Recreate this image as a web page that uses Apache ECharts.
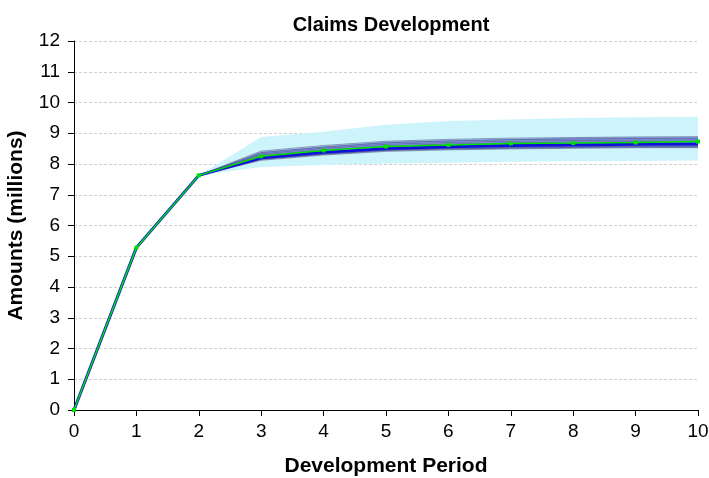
<!DOCTYPE html>
<html><head><meta charset="utf-8">
<script src="https://cdn.jsdelivr.net/npm/echarts@6/dist/echarts.min.js"></script>
<style>html,body{margin:0;padding:0;background:#fff}#c{width:709px;height:478px}</style>
</head><body><div id="c"></div>
<script>
const periods = ['0','1','2','3','4','5','6','7','8','9','10'];
const yTicks = [0,1,2,3,4,5,6,7,8,9,10,11,12];
const outerLow  = [0,5.28,7.63,7.90,7.97,8.02,8.04,8.07,8.09,8.10,8.11];
const outerHigh = [0,5.28,7.63,8.88,9.05,9.28,9.40,9.45,9.50,9.52,9.54];
const innerLow  = [0,5.28,7.63,8.13,8.30,8.42,8.47,8.50,8.52,8.53,8.53];
const innerHigh = [0,5.28,7.63,8.40,8.58,8.72,8.78,8.82,8.85,8.87,8.88];
const path1 = [0,5.28,7.63,8.42,8.60,8.74,8.80,8.84,8.86,8.88,8.89];
const path2 = [0,5.28,7.63,8.37,8.55,8.69,8.75,8.79,8.81,8.83,8.84];
const path3 = [0,5.28,7.63,8.33,8.51,8.64,8.70,8.74,8.76,8.78,8.79];
const path4 = [0,5.28,7.63,8.29,8.46,8.59,8.65,8.69,8.71,8.73,8.74];
const path5 = [0,5.28,7.63,8.17,8.34,8.46,8.51,8.54,8.56,8.58,8.59];
const path6 = [0,5.28,7.63,8.12,8.29,8.41,8.46,8.49,8.51,8.53,8.53];
const path7 = [0,5.28,7.63,8.15,8.32,8.44,8.49,8.52,8.54,8.56,8.57];
const meanLine = [0,5.28,7.63,8.20,8.38,8.50,8.56,8.60,8.62,8.64,8.65];
const actual   = [0,5.28,7.63,8.25,8.44,8.57,8.62,8.67,8.68,8.70,8.73];

const diff = (a,b) => a.map((v,i)=>+(b[i]-v).toFixed(3));
const FONT = 'Liberation Sans';
const paths = [path1,path2,path3,path4,path5,path6,path7];

const series = [
  {type:'line',data:outerLow,stack:'o',symbol:'none',lineStyle:{opacity:0},silent:true,z:1},
  {type:'line',data:diff(outerLow,outerHigh),stack:'o',symbol:'none',lineStyle:{opacity:0},areaStyle:{color:'#cdf4fb',opacity:1},silent:true,z:1},
  {type:'line',data:innerLow,stack:'i',symbol:'none',lineStyle:{opacity:0},silent:true,z:2},
  {type:'line',data:diff(innerLow,innerHigh),stack:'i',symbol:'none',lineStyle:{opacity:0},areaStyle:{color:'rgba(90,105,225,0.6)',opacity:1},silent:true,z:2}
];
paths.forEach(p=>series.push({type:'line',data:p,symbol:'none',lineStyle:{color:'rgba(60,60,110,0.5)',width:1},z:3}));
series.push({type:'line',data:meanLine,symbol:'none',lineStyle:{color:'#1010dd',width:3},z:4});
series.push({type:'line',data:actual,symbol:'rect',symbolSize:4,itemStyle:{color:'#00e000'},lineStyle:{color:'#00e000',width:1.5},z:5});

const chart = echarts.init(document.getElementById('c'),null,{renderer:'canvas'});
chart.setOption({
  animation:false,
  title:{text:'Claims Development',left:386,textAlign:'center',top:10,textStyle:{fontFamily:FONT,fontWeight:'bold',fontSize:20,color:'#000'}},
  grid:{left:74,right:11,top:41,bottom:68,containLabel:false,outerBoundsMode:'none'},
  xAxis:{type:'category',data:periods,boundaryGap:false,
    name:'Development Period',nameLocation:'middle',nameGap:46,
    nameTextStyle:{fontFamily:FONT,fontWeight:'bold',fontSize:21,color:'#000'},
    axisLine:{lineStyle:{color:'#000',width:1}},axisTick:{show:true,length:6,lineStyle:{color:'#000'}},
    axisLabel:{fontFamily:FONT,fontSize:19,color:'#000',margin:12,interval:0},splitLine:{show:false}},
  yAxis:{type:'value',min:yTicks[0],max:yTicks[yTicks.length-1],interval:1,
    name:'Amounts (millions)',nameLocation:'middle',nameGap:47,
    nameTextStyle:{fontFamily:FONT,fontWeight:'bold',fontSize:21,color:'#000'},
    axisLine:{show:true,lineStyle:{color:'#000',width:1}},axisTick:{show:true,length:6,lineStyle:{color:'#000'}},
    axisLabel:{fontFamily:FONT,fontSize:19,color:'#000',margin:14},
    splitLine:{show:true,lineStyle:{color:'#cfcfcf',type:[3,2],width:1}}},
  series:series
});
</script></body></html>
